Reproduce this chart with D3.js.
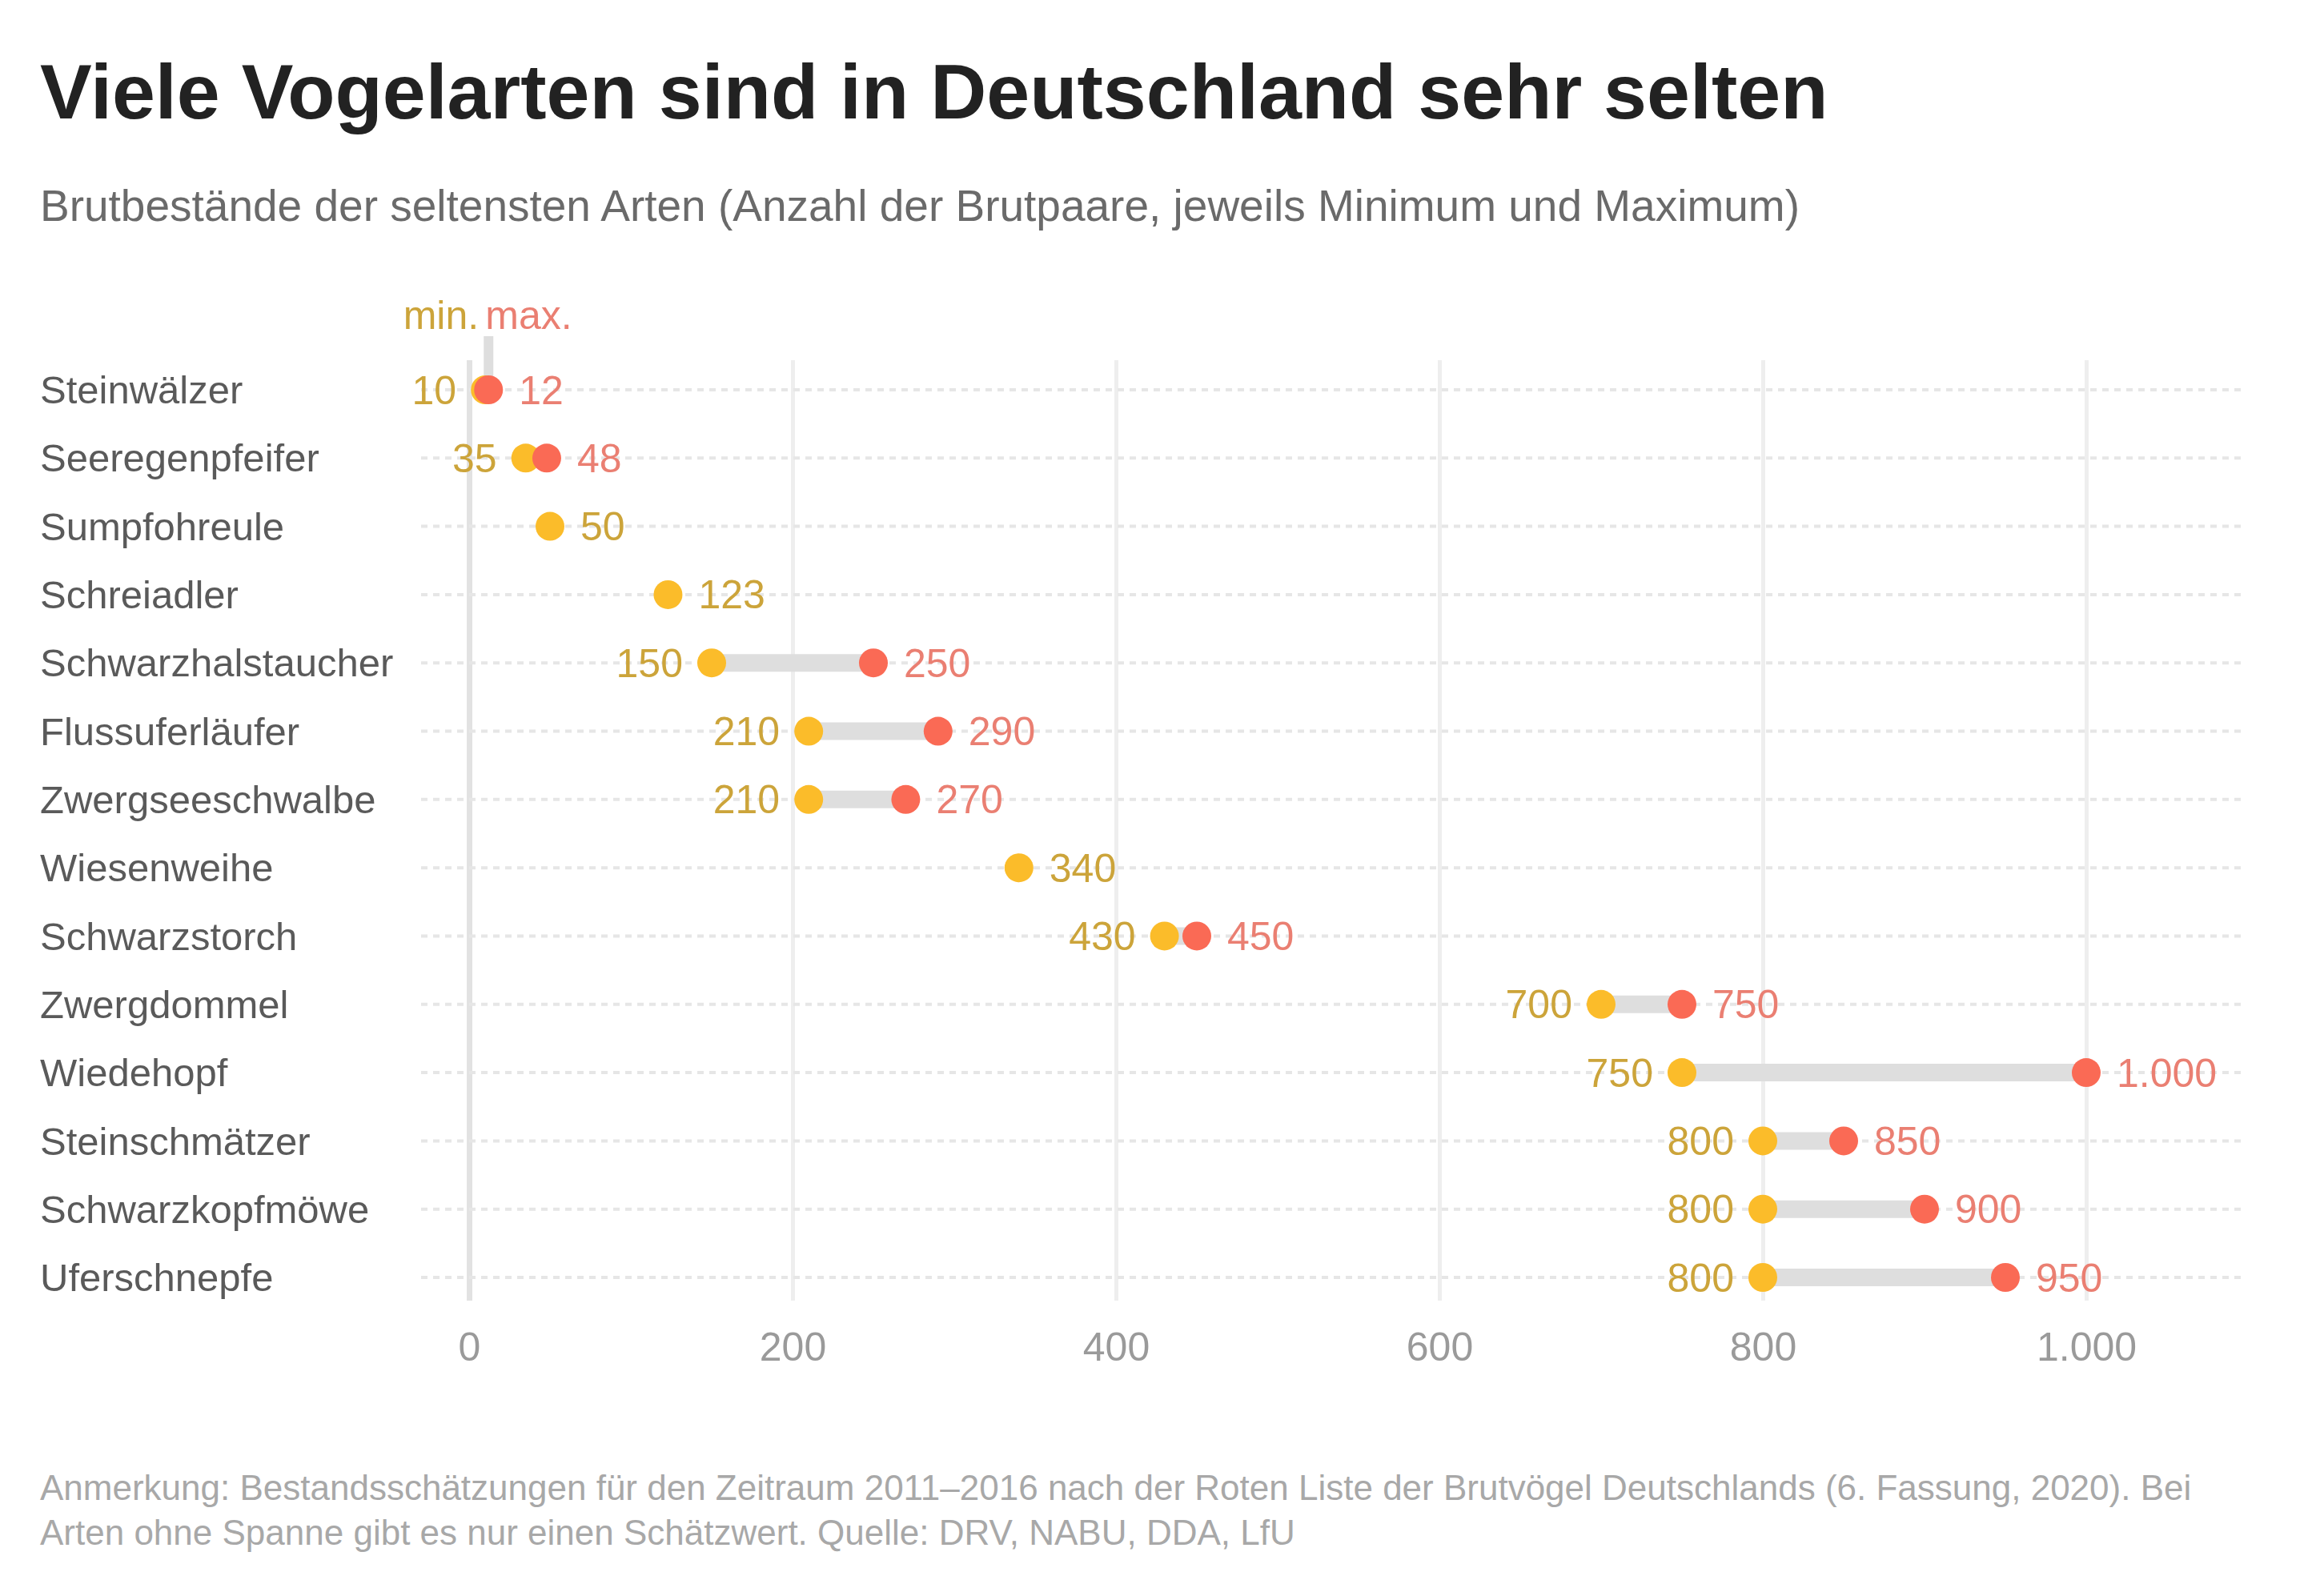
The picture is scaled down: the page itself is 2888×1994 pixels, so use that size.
<!DOCTYPE html>
<html><head><meta charset="utf-8">
<script src="https://cdn.jsdelivr.net/npm/d3@7"></script>
<style>
body{margin:0;background:#fff;}
text{font-family:"Liberation Sans", Arial, sans-serif;}
</style>
</head><body>
<svg id="chart" width="2888" height="1994"></svg>
<script>
// ---------- data ----------
const titleText = "Viele Vogelarten sind in Deutschland sehr selten";
const subtitleText = "Brutbestände der seltensten Arten (Anzahl der Brutpaare, jeweils Minimum und Maximum)";
const species = ["Steinwälzer","Seeregenpfeifer","Sumpfohreule","Schreiadler","Schwarzhalstaucher","Flussuferläufer","Zwergseeschwalbe","Wiesenweihe","Schwarzstorch","Zwergdommel","Wiedehopf","Steinschmätzer","Schwarzkopfmöwe","Uferschnepfe"];
const minValues = [10, 35, 50, 123, 150, 210, 210, 340, 430, 700, 750, 800, 800, 800];
const maxValues = [12, 48, null, null, 250, 290, 270, null, 450, 750, 1000, 850, 900, 950];
const tickValues = [0, 200, 400, 600, 800, 1000];
const legendLabels = ["min.", "max."];
const footerLines = [
  "Anmerkung: Bestandsschätzungen für den Zeitraum 2011–2016 nach der Roten Liste der Brutvögel Deutschlands (6. Fassung, 2020). Bei",
  "Arten ohne Spanne gibt es nur einen Schätzwert. Quelle: DRV, NABU, DDA, LfU"
];

// ---------- styles ----------
const C = {
  yellow: "#fbbc2a", red: "#fa6a55", bar: "#dedede",
  yellowText: "#cca43a", redText: "#ea7f72",
  title: "#222", subtitle: "#6a6a6a", label: "#5a5a5a", axis: "#9a9a9a", footer: "#a8a8a8"
};

const fmt = d3.formatLocale({decimal: ",", thousands: ".", grouping: [3], currency: ["", " €"]}).format(",");

const svg = d3.select("#chart");
svg.append("rect").attr("width", 2888).attr("height", 1994).attr("fill", "#fff");

const x = d3.scaleLinear().domain([0, 1000]).range([586, 2606]);
const y = d3.scalePoint().domain(species).range([487, 1596]);

const rows = species.map((s, i) => ({name: s, min: minValues[i], max: maxValues[i]}));

// title & subtitle
svg.append("text").attr("x", 50).attr("y", 148).attr("font-size", 97).attr("font-weight", "bold")
  .attr("fill", C.title).text(titleText);
svg.append("text").attr("x", 50).attr("y", 276).attr("font-size", 55)
  .attr("fill", C.subtitle).text(subtitleText);

// vertical gridlines
const gridTop = 450, gridBottom = 1625;
const grid = svg.append("g").attr("transform", `translate(0,${gridBottom})`)
  .call(d3.axisBottom(x).tickValues(tickValues).tickSize(-(gridBottom - gridTop)).tickFormat(""));
grid.select(".domain").remove();
grid.selectAll(".tick line").attr("stroke", "#eeeeee").attr("stroke-width", 5);
grid.selectAll(".tick").filter(d => d === 0).select("line")
  .attr("stroke", "#e2e2e2").attr("stroke-width", 7);

// horizontal dotted row lines
svg.append("g").selectAll("line").data(rows).join("line")
  .attr("x1", x(0) - 60).attr("x2", 2800)
  .attr("y1", d => y(d.name)).attr("y2", d => y(d.name))
  .attr("stroke", "#e6e6e6").attr("stroke-width", 4).attr("stroke-dasharray", "8 7");

// axis labels
const ax = svg.append("g").attr("transform", "translate(0,1664)")
  .call(d3.axisBottom(x).tickValues(tickValues).tickSize(0).tickPadding(0).tickFormat(fmt));
ax.select(".domain").remove();
ax.selectAll("text").attr("font-size", 50).attr("fill", C.axis)
  .attr("font-family", "Liberation Sans, Arial, sans-serif");

// row labels
svg.append("g").selectAll("text").data(rows).join("text")
  .attr("x", 50).attr("y", d => y(d.name)).attr("dy", "0.35em")
  .attr("font-size", 49).attr("fill", C.label).text(d => d.name);

// connectors
const withMax = rows.filter(d => d.max != null);
svg.append("g").selectAll("line").data(withMax).join("line")
  .attr("x1", d => x(d.min)).attr("x2", d => x(d.max))
  .attr("y1", d => y(d.name)).attr("y2", d => y(d.name))
  .attr("stroke", C.bar).attr("stroke-width", 22);

// legend header connector and labels
const first = rows[0];
svg.append("line").attr("x1", x(first.max)).attr("x2", x(first.max))
  .attr("y1", 420).attr("y2", y(first.name) - 14)
  .attr("stroke", C.bar).attr("stroke-width", 12);
svg.append("text").attr("x", x(first.min) - 8).attr("y", 393).attr("dy", "0.35em")
  .attr("text-anchor", "end").attr("font-size", 50).attr("fill", C.yellowText).text(legendLabels[0]);
svg.append("text").attr("x", x(first.max) - 4).attr("y", 393).attr("dy", "0.35em")
  .attr("text-anchor", "start").attr("font-size", 50).attr("fill", C.redText).text(legendLabels[1]);

// dots
svg.append("g").selectAll("circle").data(rows).join("circle")
  .attr("cx", d => x(d.min)).attr("cy", d => y(d.name)).attr("r", 18).attr("fill", C.yellow);
svg.append("g").selectAll("circle").data(withMax).join("circle")
  .attr("cx", d => x(d.max)).attr("cy", d => y(d.name)).attr("r", 18).attr("fill", C.red);

// value labels
svg.append("g").selectAll("text").data(rows).join("text")
  .attr("x", d => d.max != null ? x(d.min) - 36 : x(d.min) + 38)
  .attr("y", d => y(d.name)).attr("dy", "0.35em")
  .attr("text-anchor", d => d.max != null ? "end" : "start")
  .attr("font-size", 50).attr("fill", C.yellowText).text(d => fmt(d.min));
svg.append("g").selectAll("text").data(withMax).join("text")
  .attr("x", d => x(d.max) + 38).attr("y", d => y(d.name)).attr("dy", "0.35em")
  .attr("font-size", 50).attr("fill", C.redText).text(d => fmt(d.max));

// footer
svg.append("g").selectAll("text").data(footerLines).join("text")
  .attr("x", 50).attr("y", (d, i) => 1874 + i * 56)
  .attr("font-size", 44).attr("fill", C.footer).text(d => d);
</script>
</body></html>
